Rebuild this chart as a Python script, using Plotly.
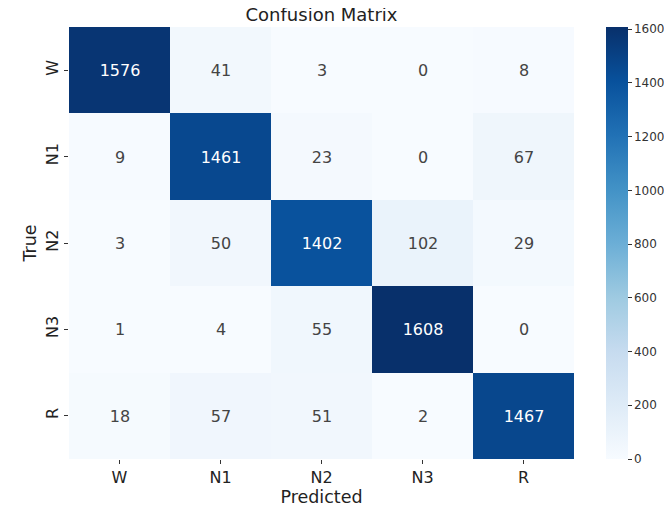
import plotly.graph_objects as go

labels = ["W", "N1", "N2", "N3", "R"]
matrix = [
    [1576, 41, 3, 0, 8],
    [9, 1461, 23, 0, 67],
    [3, 50, 1402, 102, 29],
    [1, 4, 55, 1608, 0],
    [18, 57, 51, 2, 1467],
]
cbar_ticks = [0, 200, 400, 600, 800, 1000, 1200, 1400, 1600]

blues = ['#f7fbff', '#deebf7', '#c6dbef', '#9ecae1', '#6baed6',
         '#4292c6', '#2171b5', '#08519c', '#08306b']
colorscale = [[i / (len(blues) - 1), c] for i, c in enumerate(blues)]

vmax = max(max(r) for r in matrix)
font = "DejaVu Sans"

W, H = 664, 501
L, R, T, B = 61, 98, 19, 50

fig = go.Figure(go.Heatmap(
    z=matrix, x=labels, y=labels,
    colorscale=colorscale, zmin=0, zmax=vmax,
    text=[[str(v) for v in r] for r in matrix],
    texttemplate="%{text}",
    textfont=dict(size=16, family=font),
    hoverinfo="skip",
    colorbar=dict(
        x=1.063, xanchor="left", y=0.5, yanchor="middle",
        len=1.0, lenmode="fraction", thickness=22,
        ypad=0, xpad=0,
        outlinewidth=0,
        tickvals=cbar_ticks, ticks="outside", ticklen=4,
        tickcolor="#333", tickfont=dict(size=12, family=font, color="#333"),
    ),
))

fig.update_layout(
    width=W, height=H,
    margin=dict(l=L, r=R, t=T, b=B, autoexpand=False),
    paper_bgcolor="white", plot_bgcolor="white",
    title=dict(text="Confusion Matrix", x=(L + (W - L - R) / 2) / W, xanchor="center",
               y=1, yanchor="top",
               font=dict(size=18, family=font, color="#222")),
    xaxis=dict(
        title=dict(text="Predicted", font=dict(size=17.5, family=font, color="#222"), standoff=0),
        tickfont=dict(size=16, family=font, color="#222"),
        ticks="outside", ticklen=4, tickcolor="#333", showgrid=False, zeroline=False,
        showline=False, automargin=False,
    ),
    yaxis=dict(
        title=dict(text="True", font=dict(size=17.5, family=font, color="#222"), standoff=1),
        tickfont=dict(size=16, family=font, color="#222"),
        tickangle=-90,
        ticks="outside", ticklen=4, tickcolor="#333", showgrid=False, zeroline=False,
        autorange="reversed", showline=False, automargin=False,
    ),
)

fig.write_html("out.html")
